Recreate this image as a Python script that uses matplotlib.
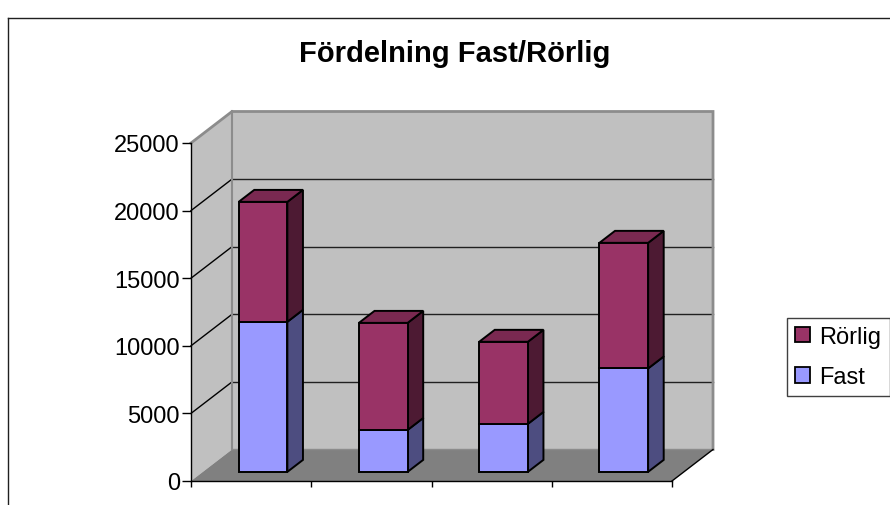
import matplotlib
matplotlib.use('Agg')
import matplotlib.pyplot as plt
from matplotlib.patches import Polygon, Rectangle, Patch
from matplotlib.lines import Line2D

# ---- data ----
categories = ['1', '2', '3', '4']
fast = [11100, 3100, 3550, 7650]
rorlig = [8870, 7920, 6070, 9290]
series_names = ['Fast', 'Rörlig']
yticks = [0, 5000, 10000, 15000, 20000, 25000]
ytick_labels = ['0', '5000', '10000', '15000', '20000', '25000']
title = 'Fördelning Fast/Rörlig'

plt.rcParams['font.family'] = ['Liberation Sans', 'DejaVu Sans']

W, H = 890, 506
fig = plt.figure(figsize=(W / 100, H / 100), dpi=100)
fig.patch.set_facecolor('white')

ax = fig.add_axes([191 / W, 24 / H, 481 / W, 338 / H])
n = len(categories)
ymax = yticks[-1]
ax.set_xlim(0, n)
ax.set_ylim(0, ymax)
ax.patch.set_visible(False)

# 3D geometry (in data units)
DX, DY = 0.341, 2330
F0, FD = 0.29, 0.38
BW = 0.405

wall = '#C0C0C0'
floor = '#808080'
egray = '#8C8C8C'

# side wall
ax.add_patch(Polygon([(0, 0), (DX, DY), (DX, ymax + DY), (0, ymax)], closed=True,
                     fc=wall, ec='none', clip_on=False, zorder=0.5))
# back wall
ax.add_patch(Rectangle((DX, DY), n, ymax, fc=wall, ec='none', clip_on=False, zorder=0.5))
# floor
ax.add_patch(Polygon([(0, 0), (n, 0), (n + DX, DY), (DX, DY)], closed=True,
                     fc=floor, ec='none', clip_on=False, zorder=0.6))

# gridlines
for v in yticks[1:-1]:
    ax.plot([DX, n + DX], [v + DY, v + DY], color='#202020', lw=1.0, clip_on=False, zorder=0.8)
    ax.plot([0, DX], [v, v + DY], color='black', lw=1.0, clip_on=False, zorder=0.8)

# wall edges
ax.plot([0, DX, n + DX, n + DX], [ymax, ymax + DY, ymax + DY, DY], color=egray, lw=2,
        clip_on=False, zorder=0.9, solid_joinstyle='miter')
ax.plot([DX, DX], [DY, ymax + DY], color=egray, lw=1.5, clip_on=False, zorder=0.9)
ax.plot([DX, n + DX], [DY, DY], color=egray, lw=1.0, clip_on=False, zorder=0.9)
ax.plot([n, n + DX], [0, DY], color='black', lw=1.0, clip_on=False, zorder=0.9)

# bars
fast_front, fast_side = '#9999FF', '#4D4D80'
ror_front, ror_side, ror_top = '#993366', '#4D1A33', '#7A2951'
base = F0 * DY
xs = [i + 0.5 + F0 * DX for i in range(n)]
ddx, ddy = FD * DX, FD * DY
lw = 1.4

tot = [f + r for f, r in zip(fast, rorlig)]
ax.bar(xs, fast, width=BW, bottom=base, color=fast_front, edgecolor='black', lw=lw, zorder=3)
ax.bar(xs, rorlig, width=BW, bottom=[base + f for f in fast], color=ror_front,
       edgecolor='black', lw=lw, zorder=3)

for i in range(n):
    xl = xs[i] - BW / 2
    xr = xs[i] + BW / 2
    for b, t, c in [(0, fast[i], fast_side), (fast[i], tot[i], ror_side)]:
        ax.add_patch(Polygon([(xr, base + b), (xr + ddx, base + b + ddy),
                              (xr + ddx, base + t + ddy), (xr, base + t)], closed=True,
                             fc=c, ec='black', lw=lw, clip_on=False, zorder=2.9,
                             joinstyle='miter'))
    t = tot[i]
    ax.add_patch(Polygon([(xl, base + t), (xr, base + t), (xr + ddx, base + t + ddy),
                          (xl + ddx, base + t + ddy)], closed=True,
                         fc=ror_top, ec='black', lw=lw, clip_on=False, zorder=2.9,
                         joinstyle='miter'))

# axes
for s in ['top', 'right']:
    ax.spines[s].set_visible(False)
for s in ['left', 'bottom']:
    ax.spines[s].set_color('black')
    ax.spines[s].set_linewidth(1.0)
ax.set_yticks(yticks)
ax.set_yticklabels(ytick_labels)
ax.set_xticks(range(n + 1))
ax.tick_params(axis='x', length=4.5, width=1, labelbottom=False, color='black')
ax.tick_params(axis='y', length=6.5, width=1, pad=1.5, labelsize=17, color='black')

# title
fig.text(455 / W, 1 - 62 / H, title, ha='center', va='baseline', fontsize=21,
         fontweight='bold')

# outer border (top & left visible)
fig.add_artist(Line2D([7.5 / W, 7.5 / W], [0, 1 - 19 / H], color='#202020', lw=1))
fig.add_artist(Line2D([7.5 / W, 1], [1 - 19 / H, 1 - 19 / H], color='#202020', lw=1))

# legend
handles = [Patch(facecolor=ror_front, edgecolor='black', lw=1.3, label=series_names[1]),
           Patch(facecolor=fast_front, edgecolor='black', lw=1.3, label=series_names[0])]
leg = fig.legend(handles=handles, loc='upper left', bbox_to_anchor=(787 / W, 1 - 318.5 / H),
                 bbox_transform=fig.transFigure, borderaxespad=0, fontsize=17,
                 frameon=True, fancybox=False, edgecolor='#404040', framealpha=1,
                 handlelength=0.64, handleheight=0.64, handletextpad=0.38,
                 borderpad=0.35, labelspacing=0.78)
leg.get_frame().set_linewidth(1)

fig.savefig('out.png', dpi=100)
